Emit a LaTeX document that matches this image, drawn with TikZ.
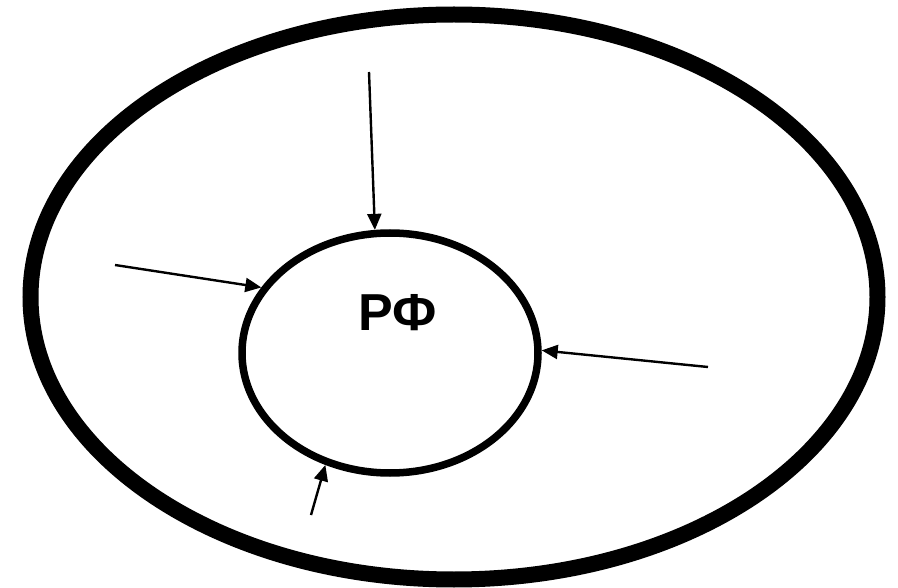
\documentclass[tikz,border=0pt]{standalone}
\usepackage{fontspec}
\setmainfont{Liberation Sans}
\usetikzlibrary{shapes.geometric,arrows.meta}
\tikzset{
  ring/.style={draw=black, ellipse, inner sep=0pt},
  pointer/.style={draw=black, line width=2.4pt, -{Triangle[length=16pt,width=14pt]}},
  lbl/.style={font=\fontsize{52}{60}\selectfont\bfseries, inner sep=0pt}
}
\begin{document}
\begin{tikzpicture}[x=1pt,y=-1pt]
\useasboundingbox[fill=white] (0,0) rectangle (898,588);
\node[ring, line width=16pt, minimum width=847pt, minimum height=565pt] (outer) at (454,297) {};
\node[ring, line width=7.5pt, minimum width=296pt, minimum height=240pt] (inner) at (390,353) {};
\node[lbl] (rf) at (398,313) {РФ};
\coordinate (s1) at (369,72);
\coordinate (s2) at (115,265);
\coordinate (s3) at (708,367);
\coordinate (s4) at (311,515);
\draw[pointer] (s1) -- (inner.97.5);
\draw[pointer] (s2) -- (inner.153.8);
\draw[pointer] (s3) -- (inner.1.1);
\draw[pointer] (s4) -- (inner.240.2);
\end{tikzpicture}
\end{document}
